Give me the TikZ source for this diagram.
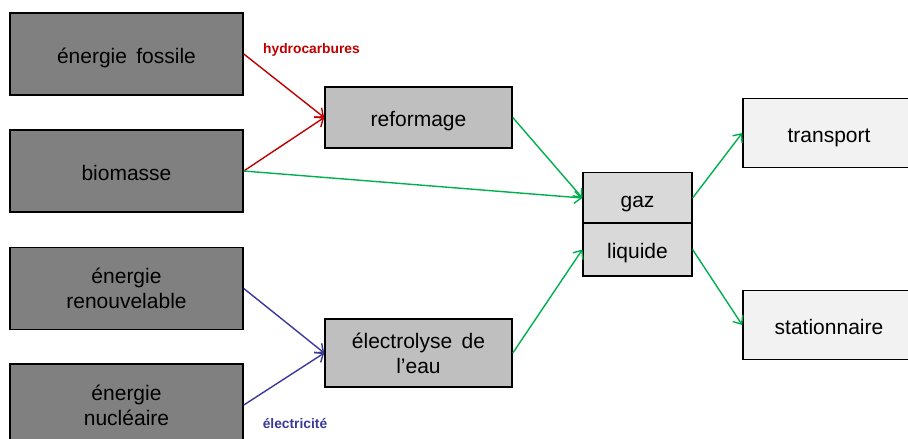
\documentclass[tikz,border=0pt]{standalone}
\usepackage{fontspec}
\setmainfont{Liberation Sans}
\usetikzlibrary{arrows.meta}
\definecolor{srcgray}{HTML}{808080}
\definecolor{procgray}{HTML}{BFBFBF}
\definecolor{midgray}{HTML}{D9D9D9}
\definecolor{usegray}{HTML}{F2F2F2}
\definecolor{redline}{HTML}{C00000}
\definecolor{blueline}{HTML}{3A3A9A}
\definecolor{greenline}{HTML}{00B050}
\tikzset{
  box/.style={draw=black, line width=1.6pt, rectangle, inner sep=0pt, align=center,
    font=\fontsize{21}{25}\selectfont},
  oneline/.style={text height=19pt, text depth=1pt},
  srcbox/.style={box, fill=srcgray, minimum width=233pt, minimum height=82pt},
  procbox/.style={box, fill=procgray, minimum width=187pt},
  midbox/.style={box, fill=midgray, minimum width=109pt, line width=1.2pt, oneline},
  usebox/.style={box, fill=usegray, minimum width=172pt, minimum height=69pt, oneline},
  arr/.style={line width=1.4pt, -{Straight Barb[length=7pt,width=12pt,line width=1.4pt]}},
  redarr/.style={arr, draw=redline},
  bluearr/.style={arr, draw=blueline},
  greenarr/.style={arr, draw=greenline},
  lbl/.style={font=\bfseries\fontsize{13.8}{15}\selectfont, inner sep=0pt}
}
\begin{document}
\begin{tikzpicture}[x=1pt,y=-1pt]
\useasboundingbox (0,0) rectangle (908,439);
\clip (0,0) rectangle (908,439);
\fill[white] (0,0) rectangle (908,439);

\node[srcbox, oneline] (fossile) at (126.5,54) {énergie\, fossile};
\node[srcbox, oneline] (biomasse) at (126.5,171) {biomasse};
\node[srcbox] (renouv) at (126.5,288.5) {énergie\\renouvelable};
\node[srcbox] (nucl) at (126.5,405) {énergie\\nucléaire};

\node[procbox, oneline, minimum height=61pt] (reformage) at (418.5,117.5) {reformage};
\node[procbox, minimum height=68pt] (electro) at (418.5,353) {électrolyse\, de\\l’eau};

\node[midbox, minimum height=50.5pt] (gaz) at (637.5,198) {gaz};
\node[midbox, minimum height=53pt] (liquide) at (637.5,249.5) {liquide};

\node[usebox] (transport) at (829,133) {transport};
\node[usebox] (station) at (829,325) {stationnaire};

\draw[redarr] (fossile.east) -- (reformage.west);
\draw[redarr] (biomasse.east) -- (reformage.west);
\draw[greenarr] (biomasse.east) -- (gaz.west);
\draw[greenarr] (reformage.east) -- (gaz.west);
\draw[bluearr] (renouv.east) -- (electro.west);
\draw[bluearr] (nucl.east) -- (electro.west);
\draw[greenarr] (electro.east) -- (liquide.west);
\draw[greenarr] (gaz.east) -- (transport.west);
\draw[greenarr] (liquide.east) -- (station.west);

\node[lbl, text=redline] (hlab) at (311.5,50) {hydrocarbures};
\node[lbl, text=blueline] (elab) at (295,424) {électricité};
\end{tikzpicture}
\end{document}
